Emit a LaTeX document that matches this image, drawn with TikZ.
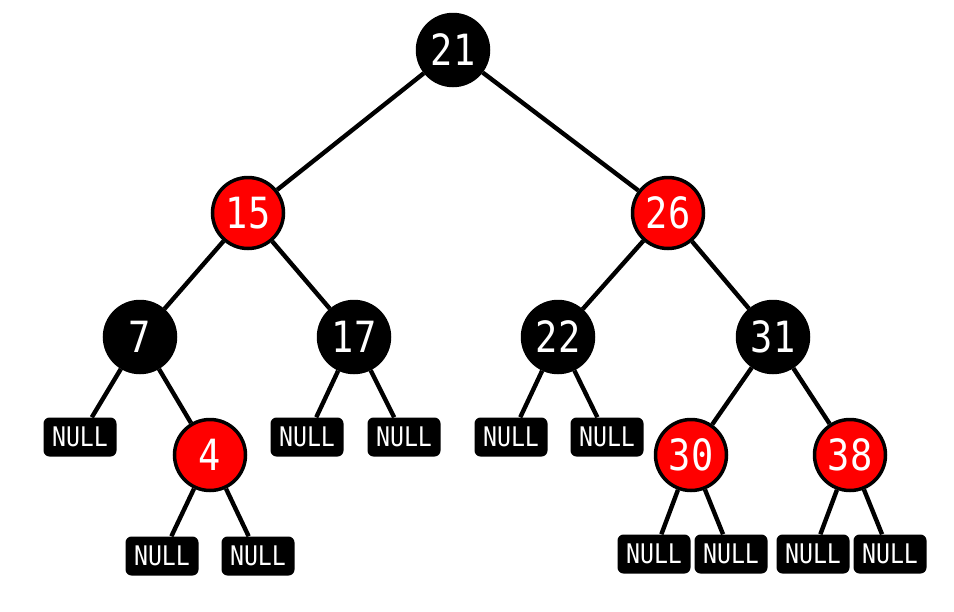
\documentclass[tikz,border=0pt]{standalone}
\usepackage{fontspec}
\setmonofont[FakeStretch=0.86]{DejaVu Sans Mono}
\usepackage{tikz}
\usetikzlibrary{positioning}
\definecolor{rbred}{RGB}{255, 0, 0}

\begin{document}
\begin{tikzpicture}[
    x=1pt, y=-1pt,
    node distance=100pt and 48pt, on grid,
    blk/.style={circle, draw=black, line width=3.5pt, fill=black,
                minimum size=71pt, inner sep=0pt, text=white,
                font=\ttfamily\fontsize{43}{43}\selectfont},
    red/.style={blk, fill=rbred},
    nil/.style={rectangle, rounded corners=6pt, fill=black, text=white,
                minimum width=73pt, minimum height=39pt, inner sep=0pt,
                font=\ttfamily\fontsize{27}{27}\selectfont},
    edge/.style={line width=4.4pt, black}
]
\useasboundingbox (0,0) rectangle (954,611);

% Level 0 and 1
\node[blk] (n21) at (453,50) {21};
\node[red, below left=163pt and 205pt of n21]  (n15) {15};
\node[red, below right=163pt and 215pt of n21] (n26) {26};

% Level 2
\node[blk, below left=124pt and 108pt of n15]  (n7)  {7};
\node[blk, below right=124pt and 106pt of n15] (n17) {17};
\node[blk, below left=124pt and 110pt of n26]  (n22) {22};
\node[blk, below right=124pt and 105pt of n26] (n31) {31};

% Level 3
\node[nil, below left=100pt and 60pt of n7]    (n7l)  {NULL};
\node[red, below right=118pt and 70pt of n7]   (n4)   {4};
\node[nil, below left=100pt and 47pt of n17]   (n17l) {NULL};
\node[nil, below right=100pt and 50pt of n17]  (n17r) {NULL};
\node[nil, below left=100pt and 47pt of n22]   (n22l) {NULL};
\node[nil, below right=100pt and 49pt of n22]  (n22r) {NULL};
\node[red, below left=118pt and 82pt of n31]   (n30)  {30};
\node[red, below right=118pt and 77pt of n31]  (n38)  {38};

% Level 4
\node[nil, below left=101pt and 48pt of n4]    (n4l)  {NULL};
\node[nil, below right=101pt and 48pt of n4]   (n4r)  {NULL};
\node[nil, below left=99pt and 37pt of n30]    (n30l) {NULL};
\node[nil, below right=99pt and 40pt of n30]   (n30r) {NULL};
\node[nil, below left=99pt and 37pt of n38]    (n38l) {NULL};
\node[nil, below right=99pt and 40pt of n38]   (n38r) {NULL};

% Edges
\draw[edge] (n21) -- (n15);
\draw[edge] (n21) -- (n26);
\draw[edge] (n15) -- (n7);
\draw[edge] (n15) -- (n17);
\draw[edge] (n26) -- (n22);
\draw[edge] (n26) -- (n31);
\draw[edge] (n7)  -- (n7l);
\draw[edge] (n7)  -- (n4);
\draw[edge] (n17) -- (n17l);
\draw[edge] (n17) -- (n17r);
\draw[edge] (n22) -- (n22l);
\draw[edge] (n22) -- (n22r);
\draw[edge] (n31) -- (n30);
\draw[edge] (n31) -- (n38);
\draw[edge] (n4)  -- (n4l);
\draw[edge] (n4)  -- (n4r);
\draw[edge] (n30) -- (n30l);
\draw[edge] (n30) -- (n30r);
\draw[edge] (n38) -- (n38l);
\draw[edge] (n38) -- (n38r);

\end{tikzpicture}
\end{document}
